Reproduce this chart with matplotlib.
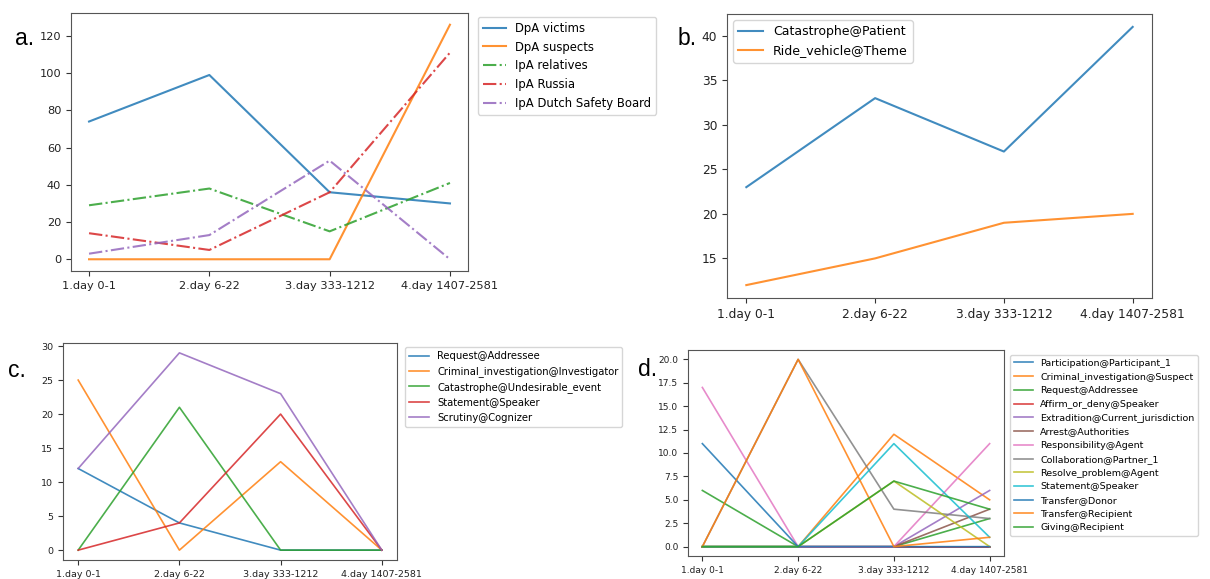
import matplotlib
matplotlib.use("Agg")
from matplotlib import pyplot as plt

days = ["1.day 0-1", "2.day 6-22", "3.day 333-1212", "4.day 1407-2581"]

# panel a
a_labels = ["DpA victims", "DpA suspects", "IpA relatives", "IpA Russia", "IpA Dutch Safety Board"]
a_styles = ["-", "-", "-.", "-.", "-."]
dpa_victims = [74, 99, 36, 30]
dpa_suspects = [0, 0, 0, 126]
ipa_relatives = [29, 38, 15, 41]
ipa_russia = [14, 5, 36, 111]
ipa_dsb = [3, 13, 53, 0]

# panel b
b_labels = ["Catastrophe@Patient", "Ride_vehicle@Theme"]
catastrophe_patient = [23, 33, 27, 41]
ride_vehicle_theme = [12, 15, 19, 20]

# panel c
c_labels = ["Request@Addressee", "Criminal_investigation@Investigator",
            "Catastrophe@Undesirable_event", "Statement@Speaker", "Scrutiny@Cognizer"]
c_request = [12, 4, 0, 0]
c_criminal = [25, 0, 13, 0]
c_catastrophe = [0, 21, 0, 0]
c_statement = [0, 4, 20, 0]
c_scrutiny = [12, 29, 23, 0]

# panel d
d_labels = ["Participation@Participant_1", "Criminal_investigation@Suspect",
            "Request@Addressee", "Affirm_or_deny@Speaker",
            "Extradition@Current_jurisdiction", "Arrest@Authorities",
            "Responsibility@Agent", "Collaboration@Partner_1",
            "Resolve_problem@Agent", "Statement@Speaker", "Transfer@Donor",
            "Transfer@Recipient", "Giving@Recipient"]
d_participation = [0, 0, 0, 0]
d_criminal = [0, 0, 12, 5]
d_request = [6, 0, 0, 3]
d_affirm = [0, 0, 0, 0]
d_extradition = [0, 0, 0, 6]
d_arrest = [0, 0, 0, 4]
d_responsibility = [17, 0, 0, 11]
d_collaboration = [0, 20, 4, 3]
d_resolve = [0, 0, 7, 0]
d_statement = [0, 0, 11, 1]
d_transfer_donor = [11, 0, 0, 0]
d_transfer_recipient = [0, 20, 0, 1]
d_giving = [0, 0, 7, 4]

colors = plt.rcParams["axes.prop_cycle"].by_key()["color"]

W, H = 1210, 579
fig = plt.figure(figsize=(W / 100, H / 100), dpi=100)


def box(l, t, r, b):
    return [l / W, 1 - b / H, (r - l) / W, (b - t) / H]


def style(ax, fs):
    ax.set_xticks(range(len(days)))
    ax.set_xticklabels(days)
    ax.tick_params(labelsize=fs, colors="#333333", labelcolor="#222222")
    for s in ax.spines.values():
        s.set_color("#555555")


x = range(len(days))
A = 0.85

ax = fig.add_axes(box(71, 13, 468, 271))
for vals, lab, ls in zip([dpa_victims, dpa_suspects, ipa_relatives, ipa_russia, ipa_dsb],
                         a_labels, a_styles):
    ax.plot(x, vals, ls=ls, label=lab, lw=1.5, alpha=A)
style(ax, 8.2)
ax.legend(loc="upper left", bbox_to_anchor=(478 / W, 1 - 17 / H),
          bbox_transform=fig.transFigure, fontsize=8.4, borderaxespad=0)

ax = fig.add_axes(box(727, 14, 1152, 298))
for vals, lab in zip([catastrophe_patient, ride_vehicle_theme], b_labels):
    ax.plot(x, vals, label=lab, lw=1.5, alpha=A)
ax.set_yticks([15, 20, 25, 30, 35, 40])
style(ax, 8.8)
ax.legend(loc="upper left", fontsize=9)

ax = fig.add_axes(box(63, 343, 397, 560))
for vals, lab in zip([c_request, c_criminal, c_catastrophe, c_statement, c_scrutiny], c_labels):
    ax.plot(x, vals, label=lab, lw=1.2, alpha=A)
style(ax, 6.8)
ax.legend(loc="upper left", bbox_to_anchor=(405 / W, 1 - 347 / H),
          bbox_transform=fig.transFigure, fontsize=7.2, borderaxespad=0)

ax = fig.add_axes(box(688, 350, 1004, 556))
d_series = [d_participation, d_criminal, d_request, d_affirm, d_extradition, d_arrest,
            d_responsibility, d_collaboration, d_resolve, d_statement, d_transfer_donor,
            d_transfer_recipient, d_giving]
for i, (vals, lab) in enumerate(zip(d_series, d_labels)):
    ax.plot(x, vals, label=lab, lw=1.2, color=colors[i % 10], alpha=A)
ax.set_yticks([0, 2.5, 5, 7.5, 10, 12.5, 15, 17.5, 20])
ax.set_yticklabels(["0.0", "2.5", "5.0", "7.5", "10.0", "12.5", "15.0", "17.5", "20.0"])
style(ax, 6.5)
ax.legend(loc="upper left", bbox_to_anchor=(1010 / W, 1 - 355 / H),
          bbox_transform=fig.transFigure, fontsize=6.8, borderaxespad=0)

for lab, px, py in [("a.", 15, 45), ("b.", 678, 45), ("c.", 8, 377), ("d.", 638, 376)]:
    fig.text(px / W, 1 - py / H, lab, fontsize=16.5, family="Liberation Sans",
             ha="left", va="baseline")

fig.savefig("out.png", dpi=100)
